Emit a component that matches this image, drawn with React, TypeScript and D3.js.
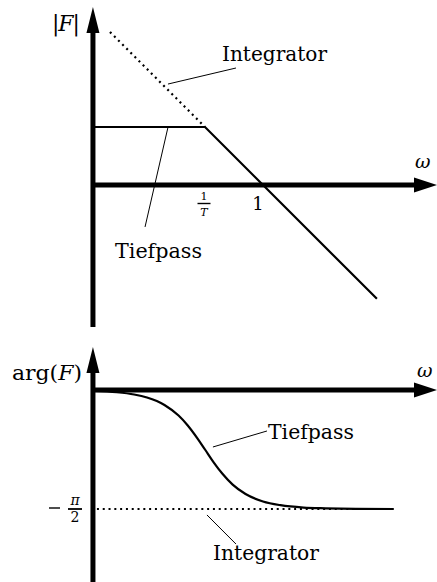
import React from "react";
import * as d3 from "d3";

// Bode diagram: magnitude and phase of a first-order low-pass (Tiefpass) and an integrator.
const W = 437;
const H = 582;

// frequency where both vertical axes stand
const omegaOrigin = 0.00117;

// magnitude asymptotes [omega, |F|]
const integratorMag: [number, number][] = [
  [0.0023, 435],
  [0.1, 10],
];
const tiefpassMag: [number, number][] = [
  [omegaOrigin, 10],
  [0.1, 10],
  [92, 0.0109],
];

// phase in degrees [omega, arg F]
const tiefpassPhase: [number, number][] = [
  [0.0012, -0.7],
  [0.003, -1.7],
  [0.006, -3.4],
  [0.01, -5.7],
  [0.02, -11.3],
  [0.035, -19.3],
  [0.05, -26.6],
  [0.075, -36.9],
  [0.1, -45],
  [0.14, -54.5],
  [0.2, -63.4],
  [0.3, -71.6],
  [0.5, -78.7],
  [1, -84.3],
  [2, -87.1],
  [5, -88.9],
  [12, -89.5],
  [40, -89.9],
  [180, -90],
];
const integratorPhase: [number, number][] = [
  [0.00137, -90],
  [80, -90],
];

// tick labels on the frequency axis
const omegaTicks = [
  { omega: 0.1, kind: "frac" },
  { omega: 1, kind: "one" },
];

const font = "'DejaVu Serif', serif";

export default function App() {
  const x = d3.scaleLog().domain([1e-3, 1e3]).range([89, 437]);
  const yMag = d3.scaleLog().domain([1e-3, 1e3]).range([359, 11]);
  const yPh = d3.scaleLinear().domain([0, -90]).range([390, 509]);

  const magLine = d3
    .line<[number, number]>()
    .x((d) => x(d[0]))
    .y((d) => yMag(d[1]));
  const phLine = d3
    .line<[number, number]>()
    .x((d) => x(d[0]))
    .y((d) => yPh(d[1]))
    .curve(d3.curveMonotoneX);
  const phStraight = d3
    .line<[number, number]>()
    .x((d) => x(d[0]))
    .y((d) => yPh(d[1]));

  const x0 = x(omegaOrigin);
  const yAxisTop = yMag(1);
  const yAxisBot = yPh(0);
  const axisW = 5;

  const dotted = { strokeDasharray: "2 3.8", strokeWidth: 2.2 };

  // annotation leaders in data coordinates
  const magLeader = (a: [number, number], b: [number, number]) => (
    <line x1={x(a[0])} y1={yMag(a[1])} x2={x(b[0])} y2={yMag(b[1])} stroke="#000" strokeWidth={1} />
  );
  const phLeader = (a: [number, number], b: [number, number]) => (
    <line x1={x(a[0])} y1={yPh(a[1])} x2={x(b[0])} y2={yPh(b[1])} stroke="#000" strokeWidth={1} />
  );

  return (
    <svg
      width={W}
      height={H}
      viewBox={`0 0 ${W} ${H}`}
      style={{ position: "absolute", left: 0, top: 0, background: "#fff" }}
    >
      <rect width={W} height={H} fill="#fff" />
      <g style={{ fontFamily: font }} fill="#000">
        {/* ---------- magnitude ---------- */}
        <line x1={x0} y1={31} x2={x0} y2={327} stroke="#000" strokeWidth={axisW} />
        <path d={`M${x0},7 L${x0 + 6.5},33 L${x0 - 6.5},33 Z`} fill="#000" />
        <line x1={x0} y1={yAxisTop} x2={417} y2={yAxisTop} stroke="#000" strokeWidth={axisW} />
        <path d={`M437,${yAxisTop} L414,${yAxisTop - 7.5} L414,${yAxisTop + 7.5} Z`} fill="#000" />

        <path d={magLine(integratorMag) ?? ""} fill="none" stroke="#000" {...dotted} />
        <path d={magLine(tiefpassMag) ?? ""} fill="none" stroke="#000" strokeWidth={2.2} />

        <text x={52} y={31} fontSize={22} textLength={28} lengthAdjust="spacing">
          |<tspan fontStyle="italic">F</tspan>|
        </text>
        <text x={415} y={168} fontSize={19} fontStyle="italic">ω</text>

        {omegaTicks.map((t) =>
          t.kind === "frac" ? (
            <g key="frac" fontSize={11} textAnchor="middle">
              <text x={x(t.omega) - 1} y={200}>1</text>
              <line x1={x(t.omega) - 7.5} x2={x(t.omega) + 5.5} y1={203.5} y2={203.5} stroke="#000" strokeWidth={1.4} />
              <text x={x(t.omega) - 1} y={215.5} fontStyle="italic">T</text>
            </g>
          ) : (
            <text key="one" x={x(t.omega) - 5} y={210} fontSize={18} textAnchor="middle">1</text>
          )
        )}

        {magLeader([0.023, 55], [0.342, 104])}
        <text x={222} y={61} fontSize={20} textLength={105} lengthAdjust="spacingAndGlyphs">Integrator</text>
        {magLeader([0.023, 9.9], [0.00925, 0.189])}
        <text x={115} y={258} fontSize={20} textLength={87} lengthAdjust="spacingAndGlyphs">Tiefpass</text>

        {/* ---------- phase ---------- */}
        <line x1={x0} y1={371} x2={x0} y2={H} stroke="#000" strokeWidth={axisW} />
        <path d={`M${x0},347 L${x0 + 6.5},373 L${x0 - 6.5},373 Z`} fill="#000" />
        <line x1={x0} y1={yAxisBot} x2={417} y2={yAxisBot} stroke="#000" strokeWidth={axisW} />
        <path d={`M437,${yAxisBot} L414,${yAxisBot - 7.5} L414,${yAxisBot + 7.5} Z`} fill="#000" />

        <path d={phStraight(integratorPhase) ?? ""} fill="none" stroke="#000" {...dotted} />
        <path d={phLine(tiefpassPhase) ?? ""} fill="none" stroke="#000" strokeWidth={2.2} />

        <text x={12} y={380} fontSize={20} textLength={70} lengthAdjust="spacingAndGlyphs">
          arg(<tspan fontStyle="italic">F</tspan>)
        </text>
        <text x={417} y={377} fontSize={19} fontStyle="italic">ω</text>

        <g>
          <line x1={49} x2={60} y1={yPh(-90) - 1} y2={yPh(-90) - 1} stroke="#000" strokeWidth={1.4} />
          <text x={75} y={505} fontSize={14} textAnchor="middle" fontStyle="italic">π</text>
          <line x1={68} x2={82} y1={yPh(-90)} y2={yPh(-90)} stroke="#000" strokeWidth={1.8} />
          <text x={75} y={522} fontSize={14} textAnchor="middle">2</text>
        </g>

        {phLeader([0.137, -43.1], [1.17, -31])}
        <text x={268} y={439} fontSize={20} textLength={86} lengthAdjust="spacingAndGlyphs">Tiefpass</text>
        {phLeader([0.108, -94.5], [0.342, -116.5])}
        <text x={213} y={560} fontSize={20} textLength={106} lengthAdjust="spacingAndGlyphs">Integrator</text>
      </g>
    </svg>
  );
}
